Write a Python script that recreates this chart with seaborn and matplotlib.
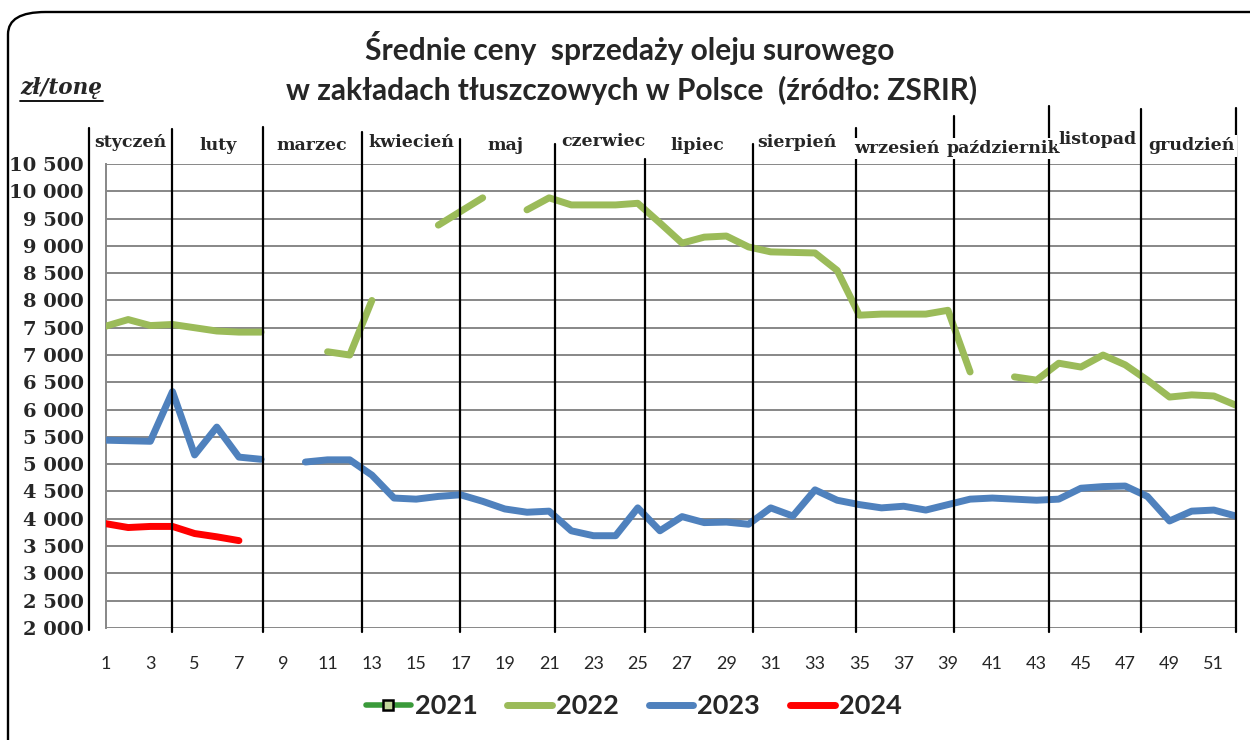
import numpy as np
import pandas as pd
import matplotlib
matplotlib.use("Agg")
import matplotlib.pyplot as plt
import seaborn as sns
from matplotlib.lines import Line2D
from matplotlib.patches import FancyBboxPatch
from matplotlib.ticker import FuncFormatter

nan = np.nan
weeks = list(range(1, 53))
years = ["2021", "2022", "2023", "2024"]
p2021 = [nan] * 52
p2022 = [7530, 7650, 7540, 7560, 7500, 7440, 7420, 7420, nan, nan,
         7060, 7000, 8000, nan, nan, 9380, 9630, 9880, nan, 9660,
         9880, 9750, 9750, 9750, 9780, 9420, 9050, 9160, 9180, 8980,
         8890, 8880, 8870, 8550, 7730, 7750, 7750, 7750, 7820, 6690,
         nan, 6600, 6540, 6850, 6780, 7000, 6820, 6540, 6230, 6270,
         6250, 6080]
p2023 = [5440, 5430, 5420, 6330, 5170, 5680, 5130, 5090, nan, 5040,
         5080, 5080, 4800, 4380, 4360, 4410, 4440, 4320, 4180, 4120,
         4140, 3780, 3690, 3690, 4200, 3780, 4040, 3930, 3940, 3900,
         4200, 4050, 4530, 4340, 4260, 4200, 4230, 4160, 4260, 4360,
         4380, 4360, 4340, 4360, 4560, 4590, 4600, 4410, 3960, 4140,
         4160, 4050]
p2024 = [3910, 3840, 3860, 3860, 3730, 3670, 3600] + [nan] * 45

months = ["styczeń", "luty", "marzec", "kwiecień", "maj", "czerwiec",
          "lipiec", "sierpień", "wrzesień", "październik", "listopad", "grudzień"]
yticks = list(range(2000, 11000, 500))
xticks = list(range(1, 52, 2))

# styling / positions (not data)
colors = {"2021": "#3A9A3A", "2022": "#9BBB59", "2023": "#4F81BD", "2024": "#FF0000"}
divider_x = [3.98, 8.09, 12.56, 16.99, 21.28, 25.34, 30.18, 34.83, 39.26, 43.55, 47.7, 52.0]
divider_top = [11150, 11170, 11080, 10960, 10870, 10590, 10870, 11160, 11380, 11560, 11510, 11530]
label_x = [2.08, 6.06, 10.3, 14.78, 19.02, 23.45, 27.7, 32.2, 36.7, 41.5, 45.76, 50.0]
label_y = [10885, 10830, 10830, 10885, 10830, 10920, 10830, 10885, 10790, 10790, 10940, 10830]

series = {"2021": p2021, "2022": p2022, "2023": p2023, "2024": p2024}
rows = []
for yr, vals in series.items():
    seg = 0
    prev_nan = True
    for w, v in zip(weeks, vals):
        if np.isnan(v):
            prev_nan = True
            continue
        if prev_nan:
            seg += 1
        prev_nan = False
        rows.append({"week": w, "price": v, "year": yr, "seg": f"{yr}-{seg}"})
df = pd.DataFrame(rows)

sns.set_style("white")
plt.rcParams["font.family"] = ["DejaVu Sans"]

fig = plt.figure(figsize=(12.5, 7.4), dpi=100)
ax = fig.add_axes([0.0848, 0.1514, 0.904, 0.627])

# grid
for yv in yticks:
    ax.axhline(yv, color="#878787", lw=1.4, zorder=1)

sns.lineplot(data=df, x="week", y="price", hue="year", units="seg", estimator=None,
             palette=colors, lw=5, ax=ax, legend=False, zorder=3,
             solid_capstyle="round", solid_joinstyle="round")

ax.set_xlim(1, 52)
ax.set_ylim(2000, 10500)
for s in ["top", "right", "bottom"]:
    ax.spines[s].set_visible(False)
ax.spines["left"].set_color("#878787")
ax.spines["left"].set_linewidth(1.4)

# month dividers
for xd, yt in zip(divider_x, divider_top):
    ax.plot([xd, xd], [1930, yt], color="black", lw=1.6, clip_on=False, zorder=4)

# month labels
for m, lx, ly in zip(months, label_x, label_y):
    ax.text(lx, ly, m, ha="center", va="center", fontsize=12.5, fontweight="bold",
            family="DejaVu Serif", clip_on=False, zorder=5,
            bbox=dict(boxstyle="square,pad=0.12", fc="white", ec="none"))

ax.set_yticks(yticks)
ax.yaxis.set_major_formatter(FuncFormatter(lambda v, p: f"{int(v):,}".replace(",", " ")))
ax.set_xticks(xticks)
ax.tick_params(axis="y", length=0, pad=16, labelsize=14)
ax.tick_params(axis="x", length=0, pad=20, labelsize=13)
for t in ax.get_yticklabels():
    t.set_fontfamily("DejaVu Serif")
    t.set_fontweight("bold")
for t in ax.get_xticklabels():
    t.set_fontfamily("Lato")
ax.set_xlabel("")
ax.set_ylabel("")

# left black axis line
fig.add_artist(Line2D([89 / 1250, 89 / 1250], [1 - 128 / 740, 1 - 630 / 740], color="black", lw=1.6))

# title
fig.text(0.504, 1 - 48 / 740, "Średnie ceny  sprzedaży oleju surowego", ha="center", va="center",
         fontsize=21.5, fontweight="bold", family="Lato")
fig.text(0.505, 1 - 90 / 740, "w zakładach tłuszczowych w Polsce  (źródło: ZSRIR)", ha="center", va="center",
         fontsize=21.5, fontweight="bold", family="Lato")

# unit label
fig.text(20 / 1250, 1 - 88 / 740, "zł/tonę", ha="left", va="center", fontsize=15.5,
         fontweight="bold", fontstyle="italic", family="DejaVu Serif")
fig.add_artist(Line2D([20 / 1250, 103 / 1250], [1 - 101 / 740, 1 - 101 / 740], color="black", lw=1.3))

# border
fig.add_artist(FancyBboxPatch((8 / 1250, -0.1), 1.2, 1 - 12 / 740 + 0.1,
                              boxstyle="round,pad=0,rounding_size=0.03",
                              transform=fig.transFigure, fill=False, ec="black", lw=1.7))

# legend
handles = [
    Line2D([], [], color=colors["2021"], lw=4, marker="s", markersize=7,
           markerfacecolor="#C3D69B", markeredgecolor="black", markeredgewidth=1.8),
    Line2D([], [], color=colors["2022"], lw=5, solid_capstyle="round"),
    Line2D([], [], color=colors["2023"], lw=5, solid_capstyle="round"),
    Line2D([], [], color=colors["2024"], lw=5, solid_capstyle="round"),
]
fig.legend(handles, years, loc="center", bbox_to_anchor=(0.507, 1 - 706 / 740), ncol=4,
           frameon=False, prop={"family": "Lato", "weight": "bold", "size": 19.5},
           handlelength=1.65, handletextpad=0.15, columnspacing=1.1)

fig.savefig("out.png", dpi=100)
